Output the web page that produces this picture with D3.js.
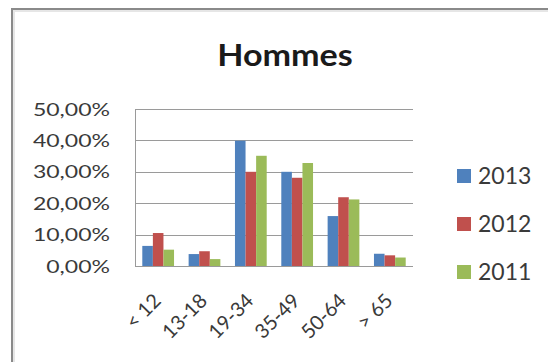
<!DOCTYPE html>
<html><head><meta charset="utf-8">
<script src="https://cdn.jsdelivr.net/npm/d3@7"></script>
<style>html,body{margin:0;padding:0;background:#fff;}svg{display:block;}</style>
</head><body>
<svg id="c" width="548" height="362"></svg>
<script>
const title = "Hommes";
const categories = ["< 12", "13-18", "19-34", "35-49", "50-64", "> 65"];
const seriesNames = ["2013", "2012", "2011"];
const values2013 = [0.064, 0.038, 0.399, 0.300, 0.159, 0.039];
const values2012 = [0.105, 0.047, 0.300, 0.281, 0.219, 0.034];
const values2011 = [0.052, 0.022, 0.351, 0.328, 0.212, 0.027];
const yTicks = [0, 0.1, 0.2, 0.3, 0.4, 0.5];
const colors = ["#4F81BD", "#C0504D", "#9BBB59"];

const series = [values2013, values2012, values2011];
const svg = d3.select("#c");
const font = "Lato, 'Open Sans', sans-serif";

// chart frame
svg.append("rect").attr("x", 12).attr("y", 9).attr("width", 560).attr("height", 380)
  .attr("fill", "#fff").attr("stroke", "#8a8a8a").attr("stroke-width", 2);
svg.append("rect").attr("x", 14).attr("y", 11).attr("width", 560).attr("height", 380)
  .attr("fill", "none").attr("stroke", "#e6e6e6").attr("stroke-width", 2);

const x0 = d3.scaleBand().domain(categories).range([135, 413]).paddingInner(0.315).paddingOuter(0.1575);
const x1 = d3.scaleBand().domain(seriesNames).range([0, x0.bandwidth()]);
const y = d3.scaleLinear().domain([0, 0.5]).range([266, 109]);

// gridlines
svg.append("g").selectAll("line").data(yTicks).join("line")
  .attr("x1", 135).attr("x2", 413)
  .attr("y1", d => Math.round(y(d)) + 0.5).attr("y2", d => Math.round(y(d)) + 0.5)
  .attr("stroke", "#9a9a9a").attr("stroke-width", 1);
// y axis line
svg.append("line").attr("x1", 135.5).attr("x2", 135.5).attr("y1", y(0.5)).attr("y2", y(0))
  .attr("stroke", "#9a9a9a");

// y labels
const fmt = d => d3.format(".2f")(d * 100).replace(".", ",") + "%";
svg.append("g").selectAll("g").data(yTicks).join("g")
  .attr("transform", d => `translate(110,${y(d) + 6.5}) scale(1.28,1)`)
  .append("text").attr("text-anchor", "end").attr("font-family", font)
  .attr("font-size", 18).attr("fill", "#3a3a3a").text(fmt);

// bars
const g = svg.append("g");
series.forEach((vals, si) => {
  g.append("g").selectAll("rect").data(vals).join("rect")
    .attr("x", (d, i) => x0(categories[i]) + x1(seriesNames[si]))
    .attr("width", x1.bandwidth())
    .attr("y", d => y(d))
    .attr("height", d => y(0) - y(d))
    .attr("fill", colors[si]);
});
// x axis line
svg.append("line").attr("x1", 135).attr("x2", 413).attr("y1", 266.5).attr("y2", 266.5).attr("stroke", "#9a9a9a");

// x labels
svg.append("g").selectAll("text").data(categories).join("text")
  .attr("transform", d => `translate(${x0(d) + x0.bandwidth() / 2 + 4},${302}) rotate(-45)`)
  .attr("text-anchor", "end").attr("font-family", font).attr("font-size", 20)
  .attr("fill", "#3a3a3a").text(d => d);

// title
svg.append("g").attr("transform", "translate(285,66) scale(1.1,1)")
  .append("text").attr("text-anchor", "middle").attr("font-family", font)
  .attr("font-weight", "bold").attr("font-size", 31).attr("fill", "#1a1a1a").text(title);

// legend
const lg = svg.append("g").selectAll("g").data(seriesNames).join("g")
  .attr("transform", (d, i) => `translate(457,${169 + i * 48})`);
lg.append("rect").attr("width", 14).attr("height", 14).attr("fill", (d, i) => colors[i]);
lg.append("text").attr("x", 21).attr("y", 14.5).attr("font-family", font).attr("font-size", 23)
  .attr("fill", "#3a3a3a").text(d => d);
</script>
</body></html>
